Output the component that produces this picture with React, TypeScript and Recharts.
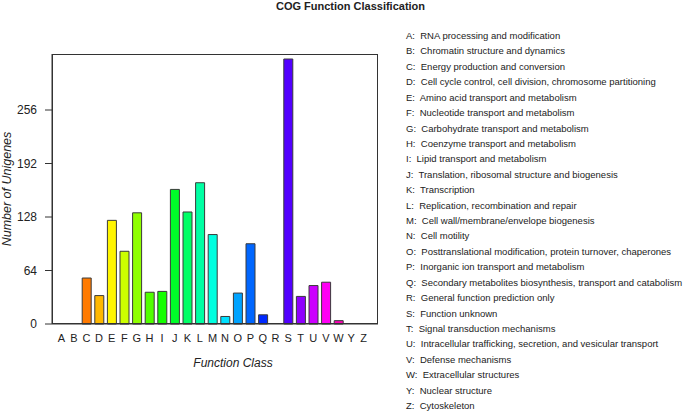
import React from "react";
import { BarChart, Bar, XAxis, YAxis, Cell } from "recharts";

const classes = ["A", "B", "C", "D", "E", "F", "G", "H", "I", "J", "K", "L", "M", "N", "O", "P", "Q", "R", "S", "T", "U", "V", "W", "Y", "Z"];
const unigenes = [0, 0, 55, 34, 124, 87, 133, 38, 39, 161, 134, 169, 107, 9, 37, 96, 11, 0, 317, 33, 46, 50, 4, 0, 0];
const yTicks = [0, 64, 128, 192, 256];
const descriptions = [
  "RNA processing and modification",
  "Chromatin structure and dynamics",
  "Energy production and conversion",
  "Cell cycle control, cell division, chromosome partitioning",
  "Amino acid transport and metabolism",
  "Nucleotide transport and metabolism",
  "Carbohydrate transport and metabolism",
  "Coenzyme transport and metabolism",
  "Lipid transport and metabolism",
  "Translation, ribosomal structure and biogenesis",
  "Transcription",
  "Replication, recombination and repair",
  "Cell wall/membrane/envelope biogenesis",
  "Cell motility",
  "Posttranslational modification, protein turnover, chaperones",
  "Inorganic ion transport and metabolism",
  "Secondary metabolites biosynthesis, transport and catabolism",
  "General function prediction only",
  "Function unknown",
  "Signal transduction mechanisms",
  "Intracellular trafficking, secretion, and vesicular transport",
  "Defense mechanisms",
  "Extracellular structures",
  "Nuclear structure",
  "Cytoskeleton",
];

// rainbow palette, one hue per class
const palette = [
  "#FF0000", "#FF3D00", "#FF7A00", "#FFB800", "#FFF500", "#CCFF00", "#8FFF00", "#52FF00",
  "#14FF00", "#00FF29", "#00FF66", "#00FFA3", "#00FFE0", "#00E0FF", "#00A3FF", "#0066FF",
  "#0029FF", "#1400FF", "#5200FF", "#8F00FF", "#CC00FF", "#FF00F5", "#FF00B8", "#FF007A",
  "#FF003D",
];

const data = classes.map((cls, i) => ({ cls, count: unigenes[i] }));

const FONT = '"Liberation Sans", Arial, sans-serif';
const INK = "#333";

export default function App() {
  return (
    <div style={{ position: "absolute", left: 0, top: 0, width: 685, height: 413, background: "#fff", fontFamily: FONT }}>
      <div style={{ position: "absolute", left: 0, width: 685, top: 0, textAlign: "center", paddingLeft: 16, boxSizing: "border-box", fontSize: 11, fontWeight: "bold", color: "#222", lineHeight: "12px" }}>
        COG Function Classification
      </div>

      <BarChart
        width={685}
        height={413}
        data={data}
        margin={{ top: 54, right: 307, bottom: 59, left: 12 }}
        style={{ position: "absolute", left: 0, top: 0 }}
      >
        <XAxis
          dataKey="cls"
          interval={0}
          height={30}
          padding={{ left: 3, right: 8 }}
          tickLine={false}
          tickSize={0}
          tickMargin={10}
          axisLine={{ stroke: INK }}
          tick={{ fontSize: 11, fill: "#222", fontFamily: FONT }}
          label={{ value: "Function Class", position: "bottom", offset: 4, dx: 18, style: { fontSize: 12, fontStyle: "italic", fill: "#222", fontFamily: FONT } }}
        />
        <YAxis
          domain={[0, 323]}
          ticks={yTicks}
          width={40}
          tickSize={7}
          tickMargin={8}
          axisLine={{ stroke: INK }}
          tickLine={{ stroke: INK }}
          tick={{ fontSize: 12, fill: "#222", fontFamily: FONT }}
          label={{ value: "Number of Unigenes", angle: -90, position: "insideLeft", offset: -5, style: { fontSize: 12.5, fontStyle: "italic", fill: "#222", textAnchor: "middle", fontFamily: FONT } }}
        />
        <Bar dataKey="count" barSize={9} stroke="#3a3a3a" strokeWidth={1} isAnimationActive={false}>
          {data.map((d, i) => (
            <Cell key={d.cls} fill={palette[i]} />
          ))}
        </Bar>
      </BarChart>

      {/* plot frame */}
      <div style={{ position: "absolute", left: 52, top: 54, width: 326, height: 270, border: `1px solid ${INK}`, boxSizing: "border-box", pointerEvents: "none" }} />

      <div style={{ position: "absolute", left: 406, top: 28, fontSize: 9.5, color: "#222", lineHeight: "15.42px", whiteSpace: "pre" }}>
        {classes.map((c, i) => (
          <div key={c}>{`${c}:  ${descriptions[i]}`}</div>
        ))}
      </div>
    </div>
  );
}
